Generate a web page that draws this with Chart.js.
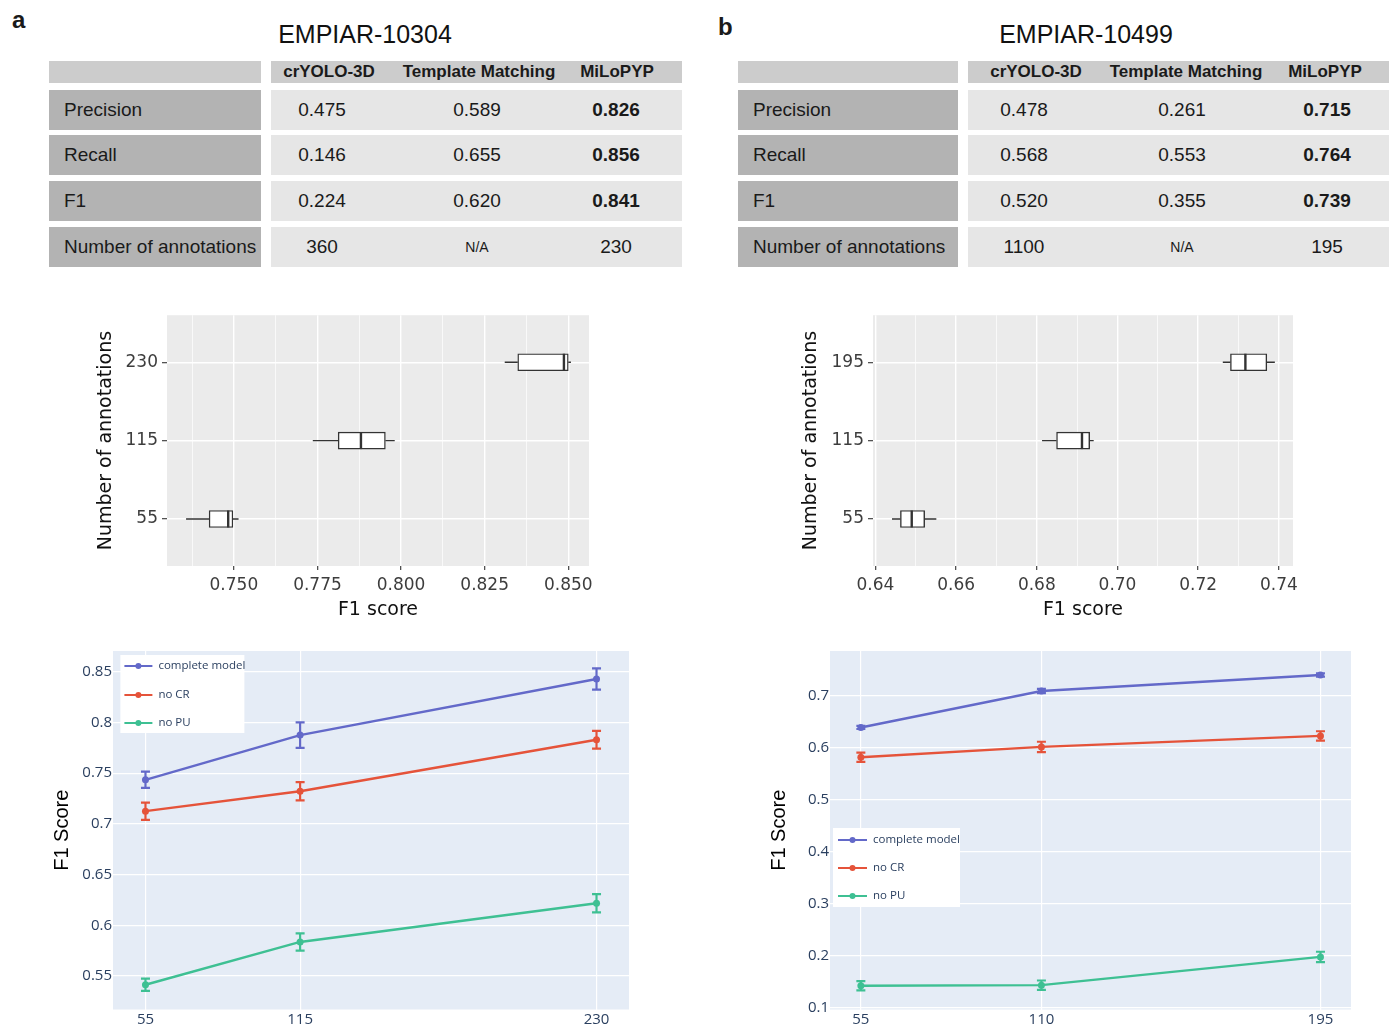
<!DOCTYPE html>
<html>
<head>
<meta charset="utf-8">
<title>EMPIAR-10304 / EMPIAR-10499</title>
<script src="https://cdn.jsdelivr.net/npm/chart.js@4.4.1/dist/chart.umd.min.js"></script>
<style>
  html, body { margin: 0; padding: 0; width: 1389px; height: 1026px; overflow: hidden; background: #fff; }
  body { position: relative; font-family: "Liberation Sans", Arial, sans-serif; color: #1a1a1a; }
  canvas { position: absolute; }
  .letter { position: absolute; font-weight: bold; font-size: 24px; line-height: 24px; }
  .title { position: absolute; width: 300px; text-align: center; font-size: 25px; line-height: 25px; color: #111; }
  .box { position: absolute; box-sizing: border-box; display: flex; align-items: center; white-space: nowrap; }
  .txt { position: absolute; width: 240px; display: flex; align-items: center; justify-content: center; white-space: nowrap; }
</style>
</head>
<body>
<div class="letter" style="left:12px;top:8px">a</div>
<div class="letter" style="left:718px;top:15px">b</div>
<div class="title" style="left:215px;top:22px">EMPIAR-10304</div>
<div class="title" style="left:936px;top:22px">EMPIAR-10499</div>

<canvas id="boxA" width="510" height="329" style="left:90px;top:301px"></canvas>
<canvas id="boxB" width="510" height="329" style="left:795px;top:301px"></canvas>
<canvas id="lineA" width="600" height="385" style="left:40px;top:641px"></canvas>
<canvas id="lineB" width="600" height="385" style="left:760px;top:641px"></canvas>

<script>
// ---- tables ----
const methodCols = ['crYOLO-3D', 'Template Matching', 'MiLoPYP'];
const metricNames = ['Precision', 'Recall', 'F1', 'Number of annotations'];
const tableA = [
  ['0.475', '0.589', '0.826'],
  ['0.146', '0.655', '0.856'],
  ['0.224', '0.620', '0.841'],
  ['360', 'N/A', '230']
];
const tableB = [
  ['0.478', '0.261', '0.715'],
  ['0.568', '0.553', '0.764'],
  ['0.520', '0.355', '0.739'],
  ['1100', 'N/A', '195']
];

// ---- box plots (F1 score vs number of annotations) ----
const boxCatsA = ['55', '115', '230'];
const boxLowA = [0.7357, 0.7736, 0.8310];
const boxQ1A = [0.7426, 0.7812, 0.8349];
const boxMedA = [0.7483, 0.7880, 0.8487];
const boxQ3A = [0.7497, 0.7953, 0.8500];
const boxHighA = [0.7514, 0.7981, 0.8508];
const boxTicksA = [0.750, 0.775, 0.800, 0.825, 0.850];
const boxMinorA = [0.7375, 0.7625, 0.7875, 0.8125, 0.8375];

const boxCatsB = ['55', '115', '195'];
const boxLowB = [0.6441, 0.6813, 0.7261];
const boxQ1B = [0.6462, 0.6849, 0.7280];
const boxMedB = [0.6490, 0.6912, 0.7317];
const boxQ3B = [0.6522, 0.6931, 0.7370];
const boxHighB = [0.6551, 0.6941, 0.7390];
const boxTicksB = [0.64, 0.66, 0.68, 0.70, 0.72, 0.74];
const boxMinorB = [0.65, 0.67, 0.69, 0.71, 0.73];

// ---- ablation line charts ----
const seriesNames = ['complete model', 'no CR', 'no PU'];
const seriesColors = ['#6369c9', '#e5533a', '#3ec093'];

const sizesA = [55, 115, 230];
const completeA = [0.7434, 0.7875, 0.8428];
const completeErrA = [0.0080, 0.0125, 0.0105];
const noCrA = [0.7125, 0.7322, 0.7829];
const noCrErrA = [0.0085, 0.0090, 0.0087];
const noPuA = [0.5414, 0.5836, 0.6217];
const noPuErrA = [0.0060, 0.0085, 0.0090];
const lineTicksA = [0.55, 0.6, 0.65, 0.7, 0.75, 0.8, 0.85];

const sizesB = [55, 110, 195];
const completeB = [0.6395, 0.7097, 0.7406];
const completeErrB = [0.003, 0.004, 0.003];
const noCrB = [0.582, 0.602, 0.6232];
const noCrErrB = [0.009, 0.010, 0.009];
const noPuB = [0.1419, 0.1430, 0.1974];
const noPuErrB = [0.009, 0.009, 0.010];
const lineTicksB = [0.1, 0.2, 0.3, 0.4, 0.5, 0.6, 0.7];

const rowTops = [90, 135, 181, 227];

function addBox(x, y, w, h, bg) {
  const d = document.createElement('div');
  d.className = 'box';
  d.style.cssText = `left:${x}px;top:${y}px;width:${w}px;height:${h}px;background:${bg}`;
  document.body.appendChild(d);
  return d;
}

function addText(text, cx, y, h, font) {
  const d = document.createElement('div');
  d.className = 'txt';
  d.style.cssText = `left:${cx - 120}px;top:${y}px;height:${h}px;font:${font}`;
  d.textContent = text;
  document.body.appendChild(d);
}

function buildTable(vals, L) {
  addBox(L.labelX, 61, L.labelW, 22, '#cccccc');
  addBox(L.valX, 61, L.valW, 22, '#cccccc');
  methodCols.forEach((m, i) => addText(m, L.headCx[i], 61, 22, 'bold 17px "Liberation Sans", Arial, sans-serif'));
  metricNames.forEach((name, r) => {
    const lab = addBox(L.labelX, rowTops[r], L.labelW, 40, '#b3b3b3');
    lab.style.paddingLeft = '15px';
    lab.style.font = '19px "Liberation Sans", Arial, sans-serif';
    lab.textContent = name;
    addBox(L.valX, rowTops[r], L.valW, 40, '#e6e6e6');
    vals[r].forEach((v, c) => {
      const size = v === 'N/A' ? 14 : 19;
      // only the score rows of MiLoPYP are bold
      const weight = (c === 2 && r < 3) ? 'bold ' : '';
      addText(v, L.valCx[c], rowTops[r], 40, `${weight}${size}px "Liberation Sans", Arial, sans-serif`);
    });
  });
}

buildTable(tableA, { labelX: 49, labelW: 212, valX: 271, valW: 411, headCx: [329, 479, 617], valCx: [322, 477, 616] });
buildTable(tableB, { labelX: 738, labelW: 220, valX: 968, valW: 421, headCx: [1036, 1186, 1325], valCx: [1024, 1182, 1327] });

// ---- plugins ----
const panelBg = {
  id: 'panelBg',
  beforeDraw(chart, args, opts) {
    const { ctx, chartArea: a } = chart;
    ctx.save();
    ctx.fillStyle = opts.color;
    ctx.fillRect(a.left, a.top, a.right - a.left, a.bottom - a.top);
    ctx.restore();
  }
};

const boxWhiskers = {
  id: 'boxWhiskers',
  afterDatasetsDraw(chart) {
    const { ctx, scales: { x } } = chart;
    const s = chart.data.datasets[0].stats;
    ctx.save();
    ctx.strokeStyle = '#333333';
    chart.getDatasetMeta(0).data.forEach((bar, i) => {
      const { y, height } = bar.getProps(['y', 'height'], true);
      ctx.lineWidth = 1.3;
      ctx.beginPath();
      ctx.moveTo(x.getPixelForValue(s.low[i]), y);
      ctx.lineTo(x.getPixelForValue(s.q1[i]), y);
      ctx.moveTo(x.getPixelForValue(s.q3[i]), y);
      ctx.lineTo(x.getPixelForValue(s.high[i]), y);
      ctx.stroke();
      const mx = x.getPixelForValue(s.median[i]);
      ctx.lineWidth = 2.4;
      ctx.beginPath();
      ctx.moveTo(mx, y - height / 2);
      ctx.lineTo(mx, y + height / 2);
      ctx.stroke();
    });
    ctx.restore();
  }
};

const errorBars = {
  id: 'errorBars',
  afterDatasetsDraw(chart) {
    const { ctx, scales: { x, y } } = chart;
    chart.data.datasets.forEach(ds => {
      ctx.save();
      ctx.strokeStyle = ds.borderColor;
      ctx.lineWidth = 2.2;
      ds.data.forEach((p, j) => {
        const px = x.getPixelForValue(p.x);
        const top = y.getPixelForValue(p.y + ds.errors[j]);
        const bot = y.getPixelForValue(p.y - ds.errors[j]);
        ctx.beginPath();
        ctx.moveTo(px, top); ctx.lineTo(px, bot);
        ctx.moveTo(px - 4.5, top); ctx.lineTo(px + 4.5, top);
        ctx.moveTo(px - 4.5, bot); ctx.lineTo(px + 4.5, bot);
        ctx.stroke();
      });
      ctx.restore();
    });
  }
};

const plotLegend = {
  id: 'plotLegend',
  afterDraw(chart, args, o) {
    const { ctx, chartArea: a } = chart;
    const bx = a.left + o.x, by = a.top + o.y;
    ctx.save();
    ctx.fillStyle = '#ffffff';
    ctx.fillRect(bx, by, o.w, o.h);
    chart.data.datasets.forEach((ds, i) => {
      const yy = by + o.rowY[i];
      ctx.strokeStyle = ds.borderColor;
      ctx.lineWidth = 2;
      ctx.beginPath();
      ctx.moveTo(bx + o.lineX[0], yy);
      ctx.lineTo(bx + o.lineX[1], yy);
      ctx.stroke();
      ctx.fillStyle = ds.borderColor;
      ctx.beginPath();
      ctx.arc(bx + (o.lineX[0] + o.lineX[1]) / 2, yy, 3, 0, Math.PI * 2);
      ctx.fill();
      ctx.fillStyle = '#2a3f5f';
      ctx.font = '11.5px "Open Sans"';
      ctx.textBaseline = 'middle';
      ctx.fillText(ds.label, bx + o.textX, yy);
    });
    ctx.restore();
  }
};

// ---- chart builders ----
function makeBoxChart(id, cats, stats, ticks, minor, range, digits, yWidth, padRight) {
  const all = ticks.concat(minor).sort((a, b) => a - b);
  const isMajor = v => ticks.some(t => Math.abs(t - v) < 1e-9);
  const font = { family: 'DejaVu Sans', size: 17 };
  return new Chart(document.getElementById(id), {
    type: 'bar',
    data: {
      datasets: [{
        data: cats.map((c, i) => ({ x: [stats.q1[i], stats.q3[i]], y: i + 1 })),
        stats: stats,
        backgroundColor: '#ffffff',
        borderColor: '#333333',
        borderWidth: 1.4,
        borderSkipped: false,
        barThickness: 17
      }]
    },
    options: {
      indexAxis: 'y',
      responsive: false,
      animation: false,
      devicePixelRatio: 1,
      events: [],
      layout: { padding: { top: 0, right: padRight, left: 0, bottom: 0 } },
      plugins: { legend: { display: false }, tooltip: { enabled: false }, panelBg: { color: '#ebebeb' } },
      scales: {
        x: {
          type: 'linear', min: range[0], max: range[1],
          afterBuildTicks: ax => { ax.ticks = all.map(v => ({ value: v })); },
          afterFit: s => { s.height = 64; },
          border: { display: false },
          grid: {
            color: '#ffffff',
            lineWidth: c => (c.tick && isMajor(c.tick.value)) ? 1.4 : 0.7,
            tickLength: 4,
            tickWidth: 1.1,
            tickColor: c => (c.tick && isMajor(c.tick.value)) ? '#333333' : 'rgba(0,0,0,0)'
          },
          ticks: { autoSkip: false, maxRotation: 0, padding: 5, color: '#3d3d3d', font, callback: v => isMajor(v) ? v.toFixed(digits) : '' },
          title: { display: true, text: 'F1 score', color: '#111', font: { family: 'DejaVu Sans', size: 19 }, padding: { top: 0, bottom: 8.6 } }
        },
        y: {
          type: 'linear', min: 0.4, max: 3.6, offset: false,
          afterBuildTicks: ax => { ax.ticks = cats.map((c, i) => ({ value: i + 1 })); },
          afterFit: s => { s.width = yWidth; },
          border: { display: false },
          grid: { offset: false, color: '#ffffff', lineWidth: 1.4, tickLength: 5, tickWidth: 1.1, tickColor: '#333333' },
          ticks: { autoSkip: false, padding: 4, color: '#3d3d3d', font, callback: v => cats[v - 1] || '' },
          title: { display: true, text: 'Number of annotations', color: '#111', font: { family: 'DejaVu Sans', size: 19 }, padding: { top: 4.6, bottom: 0 } }
        }
      }
    },
    plugins: [panelBg, boxWhiskers]
  });
}

function makeLineChart(id, sizes, values, errors, xRange, yRange, yTicks, yWidth, padRight, titlePad, legend) {
  const font = { family: 'Open Sans', size: 15 };
  return new Chart(document.getElementById(id), {
    type: 'line',
    data: {
      datasets: seriesNames.map((name, k) => ({
        label: name,
        data: sizes.map((s, i) => ({ x: s, y: values[k][i] })),
        errors: errors[k],
        borderColor: seriesColors[k],
        backgroundColor: seriesColors[k],
        pointBackgroundColor: seriesColors[k],
        borderWidth: 2.4,
        pointRadius: 3.5,
        pointBorderWidth: 0,
        tension: 0,
        fill: false
      }))
    },
    options: {
      responsive: false,
      animation: false,
      devicePixelRatio: 1,
      events: [],
      layout: { padding: { top: 0, right: padRight, left: 0, bottom: 0 } },
      plugins: { legend: { display: false }, tooltip: { enabled: false }, panelBg: { color: '#e5ecf6' }, plotLegend: legend },
      scales: {
        x: {
          type: 'linear', min: xRange[0], max: xRange[1],
          afterBuildTicks: ax => { ax.ticks = sizes.map(v => ({ value: v })); },
          afterFit: s => { s.height = 16.5; },
          border: { display: false },
          grid: { color: '#ffffff', lineWidth: 1.2, drawTicks: false },
          ticks: { autoSkip: false, maxRotation: 0, padding: 1.5, color: '#2a3f5f', font, callback: v => String(v) }
        },
        y: {
          type: 'linear', min: yRange[0], max: yRange[1],
          afterBuildTicks: ax => { ax.ticks = yTicks.map(v => ({ value: v })); },
          afterFit: s => { s.width = yWidth; },
          border: { display: false },
          grid: { color: '#ffffff', lineWidth: 1.2, drawTicks: false },
          ticks: { autoSkip: false, padding: 1, color: '#2a3f5f', font, callback: v => String(Number(v.toFixed(2))) },
          title: { display: true, text: 'F1 Score', color: '#000', font: { family: 'Liberation Sans', size: 20 }, padding: { top: titlePad, bottom: 0 } }
        }
      }
    },
    plugins: [panelBg, errorBars, plotLegend]
  });
}

makeBoxChart('boxA', boxCatsA,
  { low: boxLowA, q1: boxQ1A, median: boxMedA, q3: boxQ3A, high: boxHighA },
  boxTicksA, boxMinorA, [0.7300, 0.8562], 3, 77, 11);

makeBoxChart('boxB', boxCatsB,
  { low: boxLowB, q1: boxQ1B, median: boxMedB, q3: boxQ3B, high: boxHighB },
  boxTicksB, boxMinorB, [0.6394, 0.7435], 2, 78, 12);

makeLineChart('lineA', sizesA,
  [completeA, noCrA, noPuA], [completeErrA, noCrErrA, noPuErrA],
  [42.4, 242.6], [0.517, 0.8704], lineTicksA, 73, 11, 10,
  { x: 7.4, y: 4, w: 124, h: 78, rowY: [11, 40, 68], lineX: [4, 32], textX: 38 });

makeLineChart('lineB', sizesB,
  [completeB, noCrB, noPuB], [completeErrB, noCrErrB, noPuErrB],
  [45.6, 204.3], [0.0961, 0.7868], lineTicksB, 70, 9, 7.5,
  { x: 3, y: 177, w: 127, h: 79, rowY: [12, 40, 68], lineX: [5, 34], textX: 40 });
</script>
</body>
</html>
